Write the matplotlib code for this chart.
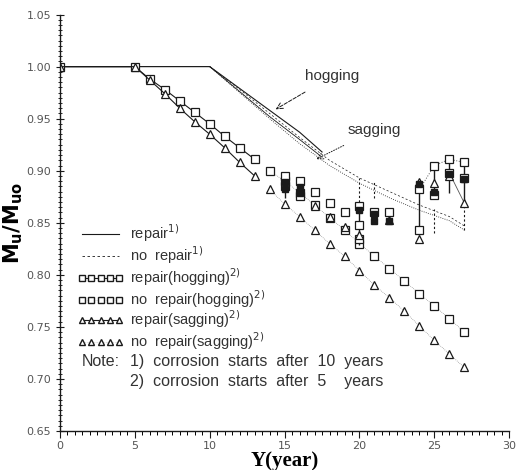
import matplotlib
matplotlib.use("Agg")
import matplotlib.pyplot as plt
from matplotlib.ticker import MultipleLocator, FormatStrFormatter
from matplotlib.lines import Line2D

# ---------------- data ----------------
# corrosion starts after 10 years (lines only)
t10 = [0, 10, 12, 14, 16, 17.5]
rep10_hog = [1.0, 1.0, 0.979, 0.958, 0.937, 0.918]
rep10_sag = [1.0, 1.0, 0.976, 0.952, 0.930, 0.913]
t10n = [10, 12, 14, 16, 18, 20, 22, 24, 26, 27]
norep10_hog = [1.0, 0.978, 0.955, 0.932, 0.910, 0.893, 0.880, 0.867, 0.856, 0.847]
norep10_sag = [1.0, 0.975, 0.950, 0.926, 0.905, 0.888, 0.874, 0.862, 0.852, 0.843]

# corrosion starts after 5 years (markers)
years_r = [0, 5, 6, 7, 8, 9, 10, 11, 12, 13]
rep_hog = [1.0, 1.0, 0.988, 0.978, 0.967, 0.956, 0.945, 0.933, 0.922, 0.911]
rep_sag = [1.0, 1.0, 0.987, 0.974, 0.960, 0.947, 0.935, 0.922, 0.908, 0.895]

years_nr = [14, 15, 16, 17, 18, 19, 20, 21, 22, 23, 24, 25, 26, 27]
norep_hog = [0.900, 0.890, 0.879, 0.867, 0.855, 0.843, 0.830, 0.818, 0.806,
             0.794, 0.782, 0.770, 0.758, 0.745]
norep_sag = [0.882, 0.868, 0.856, 0.843, 0.830, 0.818, 0.804, 0.790, 0.778,
             0.765, 0.751, 0.737, 0.724, 0.711]

# repaired states in later years
rh_x = [15, 15, 16, 16, 17, 18, 19, 20, 20, 20, 21, 22, 24, 24, 25, 25, 26, 26, 27, 27]
rh_y = [0.895, 0.885, 0.890, 0.876, 0.880, 0.869, 0.860, 0.866, 0.848, 0.834,
        0.860, 0.860, 0.882, 0.843, 0.905, 0.877, 0.911, 0.898, 0.908, 0.893]
rf_x = [15, 15, 16, 16, 20, 21, 21, 22, 24, 25, 26, 27]
rf_y = [0.889, 0.882, 0.884, 0.879, 0.862, 0.858, 0.852, 0.852, 0.887, 0.880, 0.897, 0.892]
rs_x = [17, 18, 19, 20, 22, 24, 24, 25, 26, 27]
rs_y = [0.866, 0.856, 0.846, 0.838, 0.853, 0.889, 0.834, 0.888, 0.895, 0.869]

bar_x = [15, 16, 20, 24, 25, 26, 27]
bar_lo = [0.874, 0.872, 0.829, 0.838, 0.876, 0.879, 0.869]
bar_hi = [0.895, 0.891, 0.870, 0.890, 0.905, 0.911, 0.908]
dbar_x = [20, 21, 25, 27]
dbar_lo = [0.870, 0.874, 0.840, 0.843]
dbar_hi = [0.893, 0.889, 0.863, 0.873]

link_x = [24, 25, 26, 27]
link_y = [0.882, 0.905, 0.911, 0.908]
link2_x = [26, 27]
link2_y = [0.898, 0.869]

xticks = [0, 5, 10, 15, 20, 25, 30]
yticks = [0.65, 0.70, 0.75, 0.80, 0.85, 0.90, 0.95, 1.00, 1.05]

# ---------------- figure ----------------
fig = plt.figure(figsize=(5.31, 4.70), dpi=100)
ax = fig.add_axes([0.113, 0.083, 0.846, 0.886])

ink = "#1a1a1a"
txt = "#333333"
lw = 0.8
tfont = 'Liberation Sans'

ax.plot(t10, rep10_hog, '-', color=ink, lw=lw)
ax.plot(t10, rep10_sag, '-', color=ink, lw=0.6)
ax.plot(t10n, norep10_hog, '--', color=ink, lw=0.5, dashes=(3, 3))
ax.plot(t10n, norep10_sag, ':', color=ink, lw=0.6)

msq = dict(marker='s', ms=5.5, mfc='white', mec=ink, mew=0.9)
mtr = dict(marker='^', ms=5.5, mfc='white', mec=ink, mew=0.9)

ax.plot(years_r, rep_hog, '-', color=ink, lw=lw, **msq)
ax.plot(years_r, rep_sag, '-', color=ink, lw=lw, **mtr)
ax.plot(years_nr, norep_hog, ':', color='#777777', lw=0.5, **msq)
ax.plot(years_nr, norep_sag, ':', color='#777777', lw=0.5, **mtr)

ax.vlines(bar_x, bar_lo, bar_hi, color=ink, lw=1.0)
ax.vlines(dbar_x, dbar_lo, dbar_hi, color=ink, lw=0.8, linestyles=(0, (2, 2)))
ax.plot(link_x, link_y, ':', color='#555555', lw=0.7)
ax.plot(link2_x, link2_y, '-', color='#555555', lw=0.6)

ax.plot(rh_x, rh_y, ls='none', **msq)
ax.plot(rs_x, rs_y, ls='none', **mtr)
ax.plot(rf_x, rf_y, ls='none', marker='s', ms=4, mfc=ink, mec=ink)

# annotations
ax.annotate('hogging', xy=(14.4, 0.959), xytext=(18.2, 0.991),
            fontsize=11, family=tfont, color=txt, ha='center', va='center',
            arrowprops=dict(arrowstyle='->', color=ink, lw=0.7, ls='--',
                            shrinkA=9, shrinkB=0))
ax.annotate('sagging', xy=(17.1, 0.911), xytext=(21.0, 0.939),
            fontsize=11, family=tfont, color=txt, ha='center', va='center',
            arrowprops=dict(arrowstyle='->', color=ink, lw=0.7, ls=':',
                            shrinkA=9, shrinkB=0))

# axes styling
ax.set_xlim(0, 30)
ax.set_ylim(0.65, 1.05)
ax.set_xticks(xticks)
ax.set_yticks(yticks)
ax.yaxis.set_major_formatter(FormatStrFormatter('%.2f'))
ax.xaxis.set_minor_locator(MultipleLocator(0.5))
ax.yaxis.set_minor_locator(MultipleLocator(0.005))
for s in ('top', 'right'):
    ax.spines[s].set_visible(False)
for s in ('left', 'bottom'):
    ax.spines[s].set_color(ink)
    ax.spines[s].set_linewidth(1.0)
ax.tick_params(axis='both', which='major', labelsize=8, colors=ink,
               labelcolor='#555555', width=0.8)
ax.tick_params(axis='x', which='major', direction='out', length=5, pad=2)
ax.tick_params(axis='x', which='minor', direction='out', length=3, width=0.7)
ax.tick_params(axis='y', which='major', direction='inout', length=6)
ax.tick_params(axis='y', which='minor', direction='inout', length=3, width=0.6)

ax.set_xlabel('Y(year)', fontsize=15, fontweight='bold',
              family='Liberation Serif', labelpad=0)
ax.set_ylabel(r'$\mathbf{M_u/M_{uo}}$', fontsize=15)
ax.yaxis.set_label_coords(-0.077, 0.5)

# legends
lkw = dict(loc='upper left', frameon=False, handlelength=3.1, handletextpad=0.5,
           labelspacing=0.02, borderpad=0, borderaxespad=0, numpoints=5,
           labelcolor=txt, prop={'family': tfont, 'size': 10.5})
h1 = [Line2D([], [], color=ink, lw=lw, ls='-'),
      Line2D([], [], color=ink, lw=0.6, ls='--', dashes=(3, 3)),
      Line2D([], [], color=ink, lw=lw, ls='-', marker='s', ms=4, mfc='white', mec=ink),
      Line2D([], [], color='#999999', lw=0.4, ls=':', marker='s', ms=4, mfc='white', mec=ink)]
l1 = ['repair$^{1)}$', 'no  repair$^{1)}$',
      'repair(hogging)$^{2)}$', 'no  repair(hogging)$^{2)}$']
leg1 = ax.legend(h1, l1, bbox_to_anchor=(0.04, 0.500), **lkw)
ax.add_artist(leg1)
h2 = [Line2D([], [], color=ink, lw=lw, ls='-', marker='^', ms=4, mfc='white', mec=ink),
      Line2D([], [], color='#999999', lw=0.4, ls=':', marker='^', ms=4, mfc='white', mec=ink)]
l2 = ['repair(sagging)$^{2)}$', 'no  repair(sagging)$^{2)}$']
ax.legend(h2, l2, bbox_to_anchor=(0.04, 0.294), **lkw)

nkw = dict(transform=ax.transAxes, fontsize=11.5, family=tfont, color=txt,
           va='center', ha='left')
ax.text(0.049, 0.166, 'Note:', **nkw)
ax.text(0.156, 0.166, '1)  corrosion  starts  after  10  years', **nkw)
ax.text(0.156, 0.120, '2)  corrosion  starts  after  5    years', **nkw)

fig.savefig('out.png', dpi=100)
